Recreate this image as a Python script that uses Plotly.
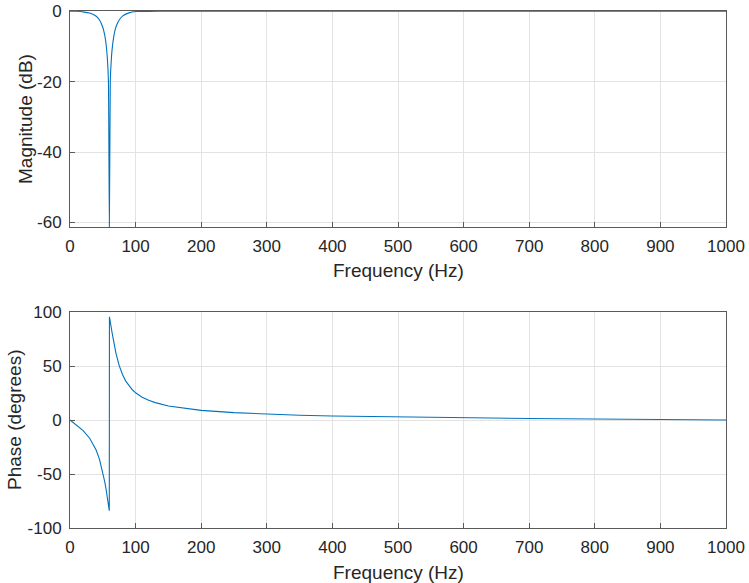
import plotly.graph_objects as go

# Magnitude response (dB)
mag_freq = [0, 10, 20, 30, 40, 45, 50, 53, 55, 57, 58.6, 60, 61.4, 62, 64, 67, 70, 75, 80,
            90, 100, 120, 150, 200, 300, 500, 700, 1000]
mag_db = [0, -0.04, -0.19, -0.54, -1.45, -2.49, -4.55, -6.88, -9.38, -13.5, -20.0, -61.3,
          -20.0, -17.0, -11.2, -6.9, -4.5, -2.5, -1.4, -0.48, -0.1, -0.05, -0.02, -0.01,
          0, 0, 0, 0]

# Phase response (degrees)
ph_freq = [0, 10, 20, 30, 40, 45, 50, 53, 55, 57, 58.6, 59.9, 60.1, 60.5, 62, 64, 67, 70,
           75, 80, 85, 90, 95, 100, 110, 120, 130, 150, 175, 200, 250, 300, 350, 400, 500,
           600, 700, 800, 900, 1000]
phase_deg = [0, -4.5, -9.8, -16.9, -28.0, -36.5, -48.2, -57.2, -64.1, -71.5, -78, -84,
             95.5, 94.6, 88.9, 81.3, 70.9, 62.0, 50.4, 42.1, 36.0, 31.5, 28.0, 25.2, 21.1,
             18.2, 16.1, 13.0, 10.6, 8.9, 6.8, 5.4, 4.45, 3.7, 2.7, 1.9, 1.4, 0.9, 0.4, 0]

x_ticks = [0, 100, 200, 300, 400, 500, 600, 700, 800, 900, 1000]
mag_ticks = [-60, -40, -20, 0]
ph_ticks = [-100, -50, 0, 50, 100]

W, H = 749, 583
LINE = "#0072BD"
FONT = "Liberation Sans, Arial, sans-serif"
TXT = "#262626"

fig = go.Figure()
fig.add_trace(go.Scatter(x=mag_freq, y=mag_db, mode="lines",
                         line=dict(color=LINE, width=1.1, shape="spline", smoothing=0.4),
                         xaxis="x", yaxis="y", showlegend=False, hoverinfo="x+y"))
fig.add_trace(go.Scatter(x=ph_freq, y=phase_deg, mode="lines",
                         line=dict(color=LINE, width=1.1), xaxis="x2", yaxis="y2",
                         showlegend=False, hoverinfo="x+y"))

def px_x(p):
    return p / W

def px_y(p):
    return 1 - p / H

axis_common = dict(showgrid=True, gridcolor="#e3e3e3", gridwidth=1,
                   showline=True, linecolor="#5a5a5a", linewidth=1, mirror=True,
                   ticks="inside", ticklen=5, tickcolor="#5a5a5a", zeroline=False,
                   automargin=False,
                   tickfont=dict(family=FONT, size=17, color=TXT))

def labels(vals):
    return [str(v) for v in vals]

xd = [px_x(70), px_x(726)]
fig.update_layout(
    width=W, height=H,
    margin=dict(l=0, r=0, t=0, b=0, autoexpand=False),
    paper_bgcolor="white", plot_bgcolor="white",
    xaxis=dict(domain=xd, range=[0, 1000], tickvals=x_ticks, ticktext=labels(x_ticks),
               anchor="y", ticklabelstandoff=4, **axis_common),
    yaxis=dict(domain=[px_y(227), px_y(11)], range=[-61.3, 0.05], tickvals=mag_ticks,
               ticktext=labels(mag_ticks), anchor="x", ticklabelstandoff=4, **axis_common),
    xaxis2=dict(domain=xd, range=[0, 1000], tickvals=x_ticks, ticktext=labels(x_ticks),
                anchor="y2", ticklabelstandoff=4, **axis_common),
    yaxis2=dict(domain=[px_y(528), px_y(312)], range=[-100, 100], tickvals=ph_ticks,
                ticktext=labels(ph_ticks), anchor="x2", ticklabelstandoff=4, **axis_common),
)

title_font = dict(family=FONT, size=19, color=TXT)
fig.add_annotation(text="Frequency (Hz)", x=(70 + 726) / 2 / W, y=px_y(270),
                   xref="paper", yref="paper", showarrow=False, font=title_font,
                   xanchor="center", yanchor="middle")
fig.add_annotation(text="Frequency (Hz)", x=(70 + 726) / 2 / W, y=px_y(572),
                   xref="paper", yref="paper", showarrow=False, font=title_font,
                   xanchor="center", yanchor="middle")
fig.add_annotation(text="Magnitude (dB)", x=px_x(25), y=px_y(119), textangle=-90,
                   xref="paper", yref="paper", showarrow=False, font=title_font,
                   xanchor="center", yanchor="middle")
fig.add_annotation(text="Phase (degrees)", x=px_x(14), y=px_y(420), textangle=-90,
                   xref="paper", yref="paper", showarrow=False, font=title_font,
                   xanchor="center", yanchor="middle")

fig.write_html("out.html",
               config={"displayModeBar": False},
               post_script="document.body.style.margin='0';"
                           "document.body.style.overflow='hidden';")
